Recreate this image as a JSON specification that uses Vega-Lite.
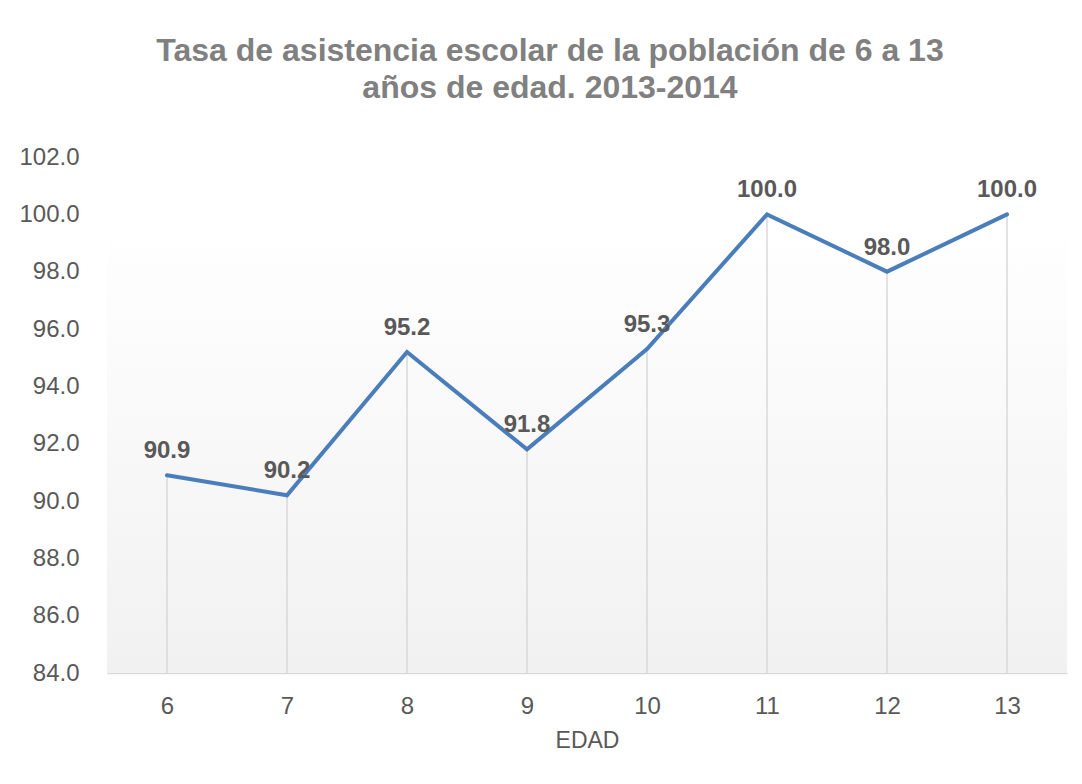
{
  "$schema": "https://vega.github.io/schema/vega-lite/v6.json",
  "width": 960,
  "height": 516,
  "autosize": {"type": "none"},
  "padding": {"left": 107, "top": 157, "right": 15, "bottom": 111},
  "background": "white",
  "title": {
    "text": ["Tasa de asistencia escolar de la población  de 6 a 13", "años de edad. 2013-2014"],
    "font": "Liberation Sans",
    "fontSize": 32,
    "fontWeight": "bold",
    "color": "#808080",
    "anchor": "middle",
    "frame": "group",
    "dx": -37,
    "offset": 40,
    "lineHeight": 37
  },
  "config": {
    "view": {"stroke": null},
    "axis": {"labelFont": "Liberation Sans", "titleFont": "Liberation Sans"}
  },
  "data": {
    "values": [
      {"edad": "6", "tasa": 90.9},
      {"edad": "7", "tasa": 90.2},
      {"edad": "8", "tasa": 95.2},
      {"edad": "9", "tasa": 91.8},
      {"edad": "10", "tasa": 95.3},
      {"edad": "11", "tasa": 100.0},
      {"edad": "12", "tasa": 98.0},
      {"edad": "13", "tasa": 100.0}
    ]
  },
  "layer": [
    {
      "data": {"values": [{"top": 99.7, "bottom": 84}]},
      "mark": {
        "type": "rect",
        "fill": {
          "gradient": "linear",
          "x1": 0, "y1": 0, "x2": 0, "y2": 1,
          "stops": [{"offset": 0, "color": "#ffffff"}, {"offset": 1, "color": "#f1f1f1"}]
        }
      },
      "encoding": {
        "y": {"field": "top", "type": "quantitative", "scale": {"domain": [84, 102]}},
        "y2": {"field": "bottom"}
      }
    },
    {
      "mark": {"type": "rule", "color": "#d9d9d9", "strokeWidth": 1.5},
      "encoding": {
        "x": {"field": "edad", "type": "ordinal", "sort": null},
        "y": {"field": "tasa", "type": "quantitative"},
        "y2": {"datum": 84}
      }
    },
    {
      "mark": {"type": "line", "color": "#4a7ebb", "strokeWidth": 4, "strokeCap": "round", "strokeJoin": "miter"},
      "encoding": {
        "x": {
          "field": "edad", "type": "ordinal", "sort": null,
          "scale": {"type": "point", "padding": 0.5},
          "axis": {
            "title": "EDAD", "labelAngle": 0, "labelAlign": "center", "labelFontSize": 24, "labelColor": "#595959",
            "titleFontSize": 23, "titleFontWeight": "normal", "titleColor": "#595959",
            "ticks": false, "domainColor": "#d9d9d9", "domainWidth": 1.5,
            "labelPadding": 33, "titlePadding": 11, "grid": false
          }
        },
        "y": {
          "field": "tasa", "type": "quantitative",
          "scale": {"domain": [84, 102], "nice": false, "zero": false},
          "axis": {
            "title": null, "values": [84, 86, 88, 90, 92, 94, 96, 98, 100, 102],
            "format": ".1f", "labelFontSize": 24, "labelColor": "#595959",
            "ticks": false, "domain": false, "grid": false, "labelPadding": 28
          }
        }
      }
    },
    {
      "mark": {"type": "text", "font": "Liberation Sans", "fontSize": 24, "fontWeight": "bold", "color": "#595959", "baseline": "middle", "dy": -24},
      "encoding": {
        "x": {"field": "edad", "type": "ordinal", "sort": null},
        "y": {"field": "tasa", "type": "quantitative"},
        "text": {"field": "tasa", "type": "quantitative", "format": ".1f"}
      }
    }
  ]
}
